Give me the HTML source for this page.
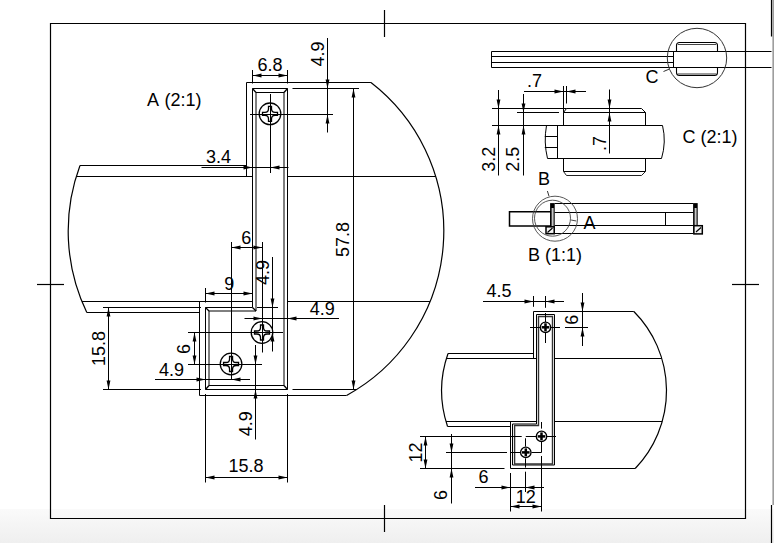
<!DOCTYPE html>
<html><head><meta charset="utf-8"><style>
html,body{margin:0;padding:0;background:#fff;}
body{width:774px;height:543px;overflow:hidden;position:relative;}
.bg{position:absolute;left:0;top:0;width:774px;height:543px;background:linear-gradient(to bottom,#fff 0px,#fff 508.5px,#fafafa 509px,#efefef 543px);}
.edge{position:absolute;left:772px;top:0;width:2px;height:505px;background:linear-gradient(to right,#d4d4d4,#8c8c8c);}
svg{position:absolute;left:0;top:0;}
text{font-family:"Liberation Sans",sans-serif;fill:#000;}
</style></head><body><div class="bg"></div><div class="edge"></div>
<svg width="774" height="543" viewBox="0 0 774 543">
<polygon points="50.5,23.5 745.5,23.5 745.5,518.5 50.5,518.5" fill="none" stroke="#000" stroke-width="1.2"/>
<line x1="384.5" y1="10" x2="384.5" y2="37" stroke="#000" stroke-width="1.2"/>
<line x1="384.5" y1="505" x2="384.5" y2="532" stroke="#000" stroke-width="1.2"/>
<line x1="37" y1="284.5" x2="64" y2="284.5" stroke="#000" stroke-width="1.2"/>
<line x1="732" y1="284.5" x2="759" y2="284.5" stroke="#000" stroke-width="1.2"/>
<line x1="771.5" y1="0" x2="771.5" y2="36.5" stroke="#000" stroke-width="1.2"/>
<line x1="771.5" y1="505" x2="771.5" y2="543" stroke="#000" stroke-width="1.2"/>
<path d="M370.96,82.5 A187.8,187.8 0 0 1 346.6,395.5" fill="none" stroke="#000" stroke-width="1.2"/>
<path d="M79.99,165.5 A187.8,187.8 0 0 0 86.81,312.5" fill="none" stroke="#000" stroke-width="1.2"/>
<line x1="246.5" y1="82.5" x2="370.96342896765043" y2="82.5" stroke="#000" stroke-width="1.0"/>
<line x1="246.5" y1="82.5" x2="246.5" y2="176.5" stroke="#000" stroke-width="1.0"/>
<line x1="79.99264219925348" y1="165.5" x2="246.5" y2="165.5" stroke="#000" stroke-width="1.0"/>
<line x1="76.2819152116293" y1="176.5" x2="252.5" y2="176.5" stroke="#000" stroke-width="1.0"/>
<line x1="287.5" y1="176.5" x2="435.7180847883707" y2="176.5" stroke="#000" stroke-width="1.0"/>
<line x1="81.93509831100354" y1="301.5" x2="252.5" y2="301.5" stroke="#000" stroke-width="1.0"/>
<line x1="287.5" y1="301.5" x2="430.06490168899643" y2="301.5" stroke="#000" stroke-width="1.0"/>
<line x1="86.80605802807241" y1="312.5" x2="199.5" y2="312.5" stroke="#000" stroke-width="1.0"/>
<line x1="199.5" y1="301.5" x2="199.5" y2="395.5" stroke="#000" stroke-width="1.0"/>
<line x1="199.5" y1="395.5" x2="346.60126930678183" y2="395.5" stroke="#000" stroke-width="1.0"/>
<polygon points="252.5,307.5 252.5,88.5 287.5,88.5 287.5,389.5 205.5,389.5 205.5,307.5" fill="none" stroke="#000" stroke-width="1.0"/>
<line x1="256" y1="92.5" x2="256" y2="311" stroke="#000" stroke-width="1.0"/>
<line x1="284" y1="92.5" x2="284" y2="385.5" stroke="#000" stroke-width="1.0"/>
<line x1="209" y1="311" x2="209" y2="385.5" stroke="#000" stroke-width="1.0"/>
<line x1="256" y1="92.5" x2="284" y2="92.5" stroke="#000" stroke-width="1.0"/>
<line x1="209" y1="311" x2="256" y2="311" stroke="#000" stroke-width="1.0"/>
<line x1="209" y1="385.5" x2="284" y2="385.5" stroke="#000" stroke-width="1.0"/>
<line x1="252.5" y1="88.5" x2="256" y2="92.5" stroke="#000" stroke-width="1.3"/>
<line x1="287.5" y1="88.5" x2="284" y2="92.5" stroke="#000" stroke-width="1.3"/>
<line x1="252.5" y1="307.5" x2="256" y2="311" stroke="#000" stroke-width="1.3"/>
<line x1="205.5" y1="307.5" x2="209" y2="311" stroke="#000" stroke-width="1.3"/>
<line x1="205.5" y1="389.5" x2="209" y2="385.5" stroke="#000" stroke-width="1.3"/>
<line x1="287.5" y1="389.5" x2="284" y2="385.5" stroke="#000" stroke-width="1.3"/>
<line x1="103" y1="307.5" x2="201" y2="307.5" stroke="#000" stroke-width="1.0"/>
<line x1="103" y1="389.5" x2="201" y2="389.5" stroke="#000" stroke-width="1.0"/>
<line x1="108.5" y1="307.5" x2="108.5" y2="389.5" stroke="#000" stroke-width="1.0"/>
<polygon points="108.5,307.5 106.6,316.5 110.4,316.5" fill="#000"/>
<polygon points="108.5,389.5 106.6,380.5 110.4,380.5" fill="#000"/>
<text x="0" y="0" transform="translate(104.5,348.5) rotate(-90)" text-anchor="middle" font-size="18" >15.8</text>
<line x1="292.5" y1="88.5" x2="359" y2="88.5" stroke="#000" stroke-width="1.0"/>
<line x1="292.5" y1="389.5" x2="356.7302834305553" y2="389.5" stroke="#000" stroke-width="1.0"/>
<line x1="353.5" y1="88.5" x2="353.5" y2="389.5" stroke="#000" stroke-width="1.0"/>
<polygon points="353.5,88.5 351.6,97.5 355.4,97.5" fill="#000"/>
<polygon points="353.5,389.5 351.6,380.5 355.4,380.5" fill="#000"/>
<text x="0" y="0" transform="translate(348.5,239.5) rotate(-90)" text-anchor="middle" font-size="18" >57.8</text>
<line x1="252.5" y1="70" x2="252.5" y2="83.5" stroke="#000" stroke-width="1.0"/>
<line x1="287.5" y1="70" x2="287.5" y2="83.5" stroke="#000" stroke-width="1.0"/>
<line x1="252.5" y1="75.5" x2="287.5" y2="75.5" stroke="#000" stroke-width="1.0"/>
<polygon points="252.5,75.5 261.5,73.6 261.5,77.4" fill="#000"/>
<polygon points="287.5,75.5 278.5,73.6 278.5,77.4" fill="#000"/>
<text x="270.0" y="70.5" text-anchor="middle" font-size="18" >6.8</text>
<line x1="327.5" y1="38" x2="327.5" y2="132.5" stroke="#000" stroke-width="1.0"/>
<polygon points="327.5,88.5 325.6,79.5 329.4,79.5" fill="#000"/>
<polygon points="327.5,114.5 325.6,123.5 329.4,123.5" fill="#000"/>
<text x="0" y="0" transform="translate(323.5,54.0) rotate(-90)" text-anchor="middle" font-size="18" >4.9</text>
<circle cx="270.0" cy="113.8" r="10.8" fill="none" stroke="#000" stroke-width="1.3"/>
<path d="M268.5,106.3 L271.5,106.3 L271.5,108.7 Q271.5,112.3 275.1,112.3 L277.5,112.3 L277.5,115.3 L275.1,115.3 Q271.5,115.3 271.5,118.89999999999999 L271.5,121.3 L268.5,121.3 L268.5,118.89999999999999 Q268.5,115.3 264.9,115.3 L262.5,115.3 L262.5,112.3 L264.9,112.3 Q268.5,112.3 268.5,108.7 Z" fill="none" stroke="#000" stroke-width="1.3"/>
<line x1="250" y1="114.5" x2="333" y2="114.5" stroke="#000" stroke-width="1.0"/>
<line x1="270.5" y1="94" x2="270.5" y2="173" stroke="#000" stroke-width="1.0"/>
<line x1="201.5" y1="167.5" x2="288.5" y2="167.5" stroke="#000" stroke-width="1.0"/>
<polygon points="252.5,167.5 243.5,165.6 243.5,169.4" fill="#000"/>
<polygon points="270.5,167.5 279.5,165.6 279.5,169.4" fill="#000"/>
<text x="218.5" y="162.5" text-anchor="middle" font-size="18" >3.4</text>
<line x1="231.5" y1="242" x2="231.5" y2="380" stroke="#000" stroke-width="1.0"/>
<line x1="262.5" y1="242" x2="262.5" y2="352.5" stroke="#000" stroke-width="1.0"/>
<line x1="231.5" y1="247.5" x2="262.5" y2="247.5" stroke="#000" stroke-width="1.0"/>
<polygon points="231.5,247.5 240.5,245.6 240.5,249.4" fill="#000"/>
<polygon points="262.5,247.5 253.5,245.6 253.5,249.4" fill="#000"/>
<text x="246.3" y="243.8" text-anchor="middle" font-size="18" >6</text>
<line x1="205.5" y1="288" x2="205.5" y2="302.5" stroke="#000" stroke-width="1.0"/>
<line x1="205.5" y1="293.5" x2="252.5" y2="293.5" stroke="#000" stroke-width="1.0"/>
<polygon points="205.5,293.5 214.5,291.6 214.5,295.4" fill="#000"/>
<polygon points="252.5,293.5 243.5,291.6 243.5,295.4" fill="#000"/>
<text x="229.3" y="289.8" text-anchor="middle" font-size="18" >9</text>
<line x1="272.5" y1="257" x2="272.5" y2="351.5" stroke="#000" stroke-width="1.0"/>
<line x1="257" y1="307.5" x2="278" y2="307.5" stroke="#000" stroke-width="1.0"/>
<polygon points="272.5,307.5 270.6,298.5 274.4,298.5" fill="#000"/>
<polygon points="272.5,332.5 270.6,341.5 274.4,341.5" fill="#000"/>
<text x="0" y="0" transform="translate(269.0,272.6) rotate(-90)" text-anchor="middle" font-size="18" >4.9</text>
<line x1="244.5" y1="318.5" x2="339" y2="318.5" stroke="#000" stroke-width="1.0"/>
<polygon points="262.5,318.5 253.5,316.6 253.5,320.4" fill="#000"/>
<polygon points="287.5,318.5 296.5,316.6 296.5,320.4" fill="#000"/>
<text x="322.3" y="314.9" text-anchor="middle" font-size="18" >4.9</text>
<circle cx="262.0" cy="332.5" r="10.8" fill="none" stroke="#000" stroke-width="1.3"/>
<path d="M260.5,325.0 L263.5,325.0 L263.5,327.4 Q263.5,331.0 267.1,331.0 L269.5,331.0 L269.5,334.0 L267.1,334.0 Q263.5,334.0 263.5,337.6 L263.5,340.0 L260.5,340.0 L260.5,337.6 Q260.5,334.0 256.9,334.0 L254.5,334.0 L254.5,331.0 L256.9,331.0 Q260.5,331.0 260.5,327.4 Z" fill="none" stroke="#000" stroke-width="1.3"/>
<line x1="188" y1="332.5" x2="283" y2="332.5" stroke="#000" stroke-width="1.0"/>
<circle cx="231.05" cy="364.0" r="10.8" fill="none" stroke="#000" stroke-width="1.3"/>
<path d="M229.55,356.5 L232.55,356.5 L232.55,358.9 Q232.55,362.5 236.15,362.5 L238.55,362.5 L238.55,365.5 L236.15,365.5 Q232.55,365.5 232.55,369.1 L232.55,371.5 L229.55,371.5 L229.55,369.1 Q229.55,365.5 225.95000000000002,365.5 L223.55,365.5 L223.55,362.5 L225.95000000000002,362.5 Q229.55,362.5 229.55,358.9 Z" fill="none" stroke="#000" stroke-width="1.3"/>
<line x1="188" y1="364.5" x2="262" y2="364.5" stroke="#000" stroke-width="1.0"/>
<line x1="194.5" y1="332.5" x2="194.5" y2="364.5" stroke="#000" stroke-width="1.0"/>
<polygon points="194.5,332.5 192.6,341.5 196.4,341.5" fill="#000"/>
<polygon points="194.5,364.5 192.6,355.5 196.4,355.5" fill="#000"/>
<text x="0" y="0" transform="translate(190.0,349.0) rotate(-90)" text-anchor="middle" font-size="18" >6</text>
<line x1="155" y1="379.5" x2="250" y2="379.5" stroke="#000" stroke-width="1.0"/>
<polygon points="205.5,379.5 196.5,377.6 196.5,381.4" fill="#000"/>
<polygon points="231.5,379.5 240.5,377.6 240.5,381.4" fill="#000"/>
<text x="171.4" y="376.2" text-anchor="middle" font-size="18" >4.9</text>
<line x1="255.5" y1="345" x2="255.5" y2="439.5" stroke="#000" stroke-width="1.0"/>
<polygon points="255.5,364.5 253.6,355.5 257.4,355.5" fill="#000"/>
<polygon points="255.5,389.5 253.6,398.5 257.4,398.5" fill="#000"/>
<text x="0" y="0" transform="translate(252.0,423.7) rotate(-90)" text-anchor="middle" font-size="18" >4.9</text>
<line x1="205.5" y1="394" x2="205.5" y2="482.5" stroke="#000" stroke-width="1.0"/>
<line x1="287.5" y1="394" x2="287.5" y2="482.5" stroke="#000" stroke-width="1.0"/>
<line x1="205.5" y1="477.5" x2="287.5" y2="477.5" stroke="#000" stroke-width="1.0"/>
<polygon points="205.5,477.5 214.5,475.6 214.5,479.4" fill="#000"/>
<polygon points="287.5,477.5 278.5,475.6 278.5,479.4" fill="#000"/>
<text x="246.0" y="472.3" text-anchor="middle" font-size="18" >15.8</text>
<text x="147" y="105.6" text-anchor="start" font-size="18" word-spacing="1.5">A (2:1)</text>
<line x1="491.5" y1="51.5" x2="771.5" y2="51.5" stroke="#000" stroke-width="1.0"/>
<line x1="491.5" y1="67.5" x2="771.5" y2="67.5" stroke="#000" stroke-width="1.0"/>
<line x1="491.5" y1="56.5" x2="673.5" y2="56.5" stroke="#000" stroke-width="1.0"/>
<line x1="491.5" y1="62.5" x2="673.5" y2="62.5" stroke="#000" stroke-width="1.0"/>
<line x1="491.5" y1="51.5" x2="491.5" y2="67.5" stroke="#000" stroke-width="1.0"/>
<line x1="673.5" y1="51.5" x2="673.5" y2="67.5" stroke="#000" stroke-width="1.0"/>
<circle cx="697.0" cy="58.0" r="29.7" fill="none" stroke="#333" stroke-width="1.0"/>
<path d="M676.5,51.5 L676.5,45.5 Q676.5,42.5 679.5,42.5 L714.5,42.5 Q717.5,42.5 717.5,45.5 L717.5,51.5" fill="none" stroke="#000" stroke-width="1.1"/>
<line x1="678" y1="44.5" x2="716" y2="44.5" stroke="#444" stroke-width="1.0"/>
<path d="M676.5,67.5 L676.5,72.5 Q676.5,75.5 679.5,75.5 L714.5,75.5 Q717.5,75.5 717.5,72.5 L717.5,67.5" fill="none" stroke="#000" stroke-width="1.1"/>
<line x1="678" y1="74.0" x2="716" y2="74.0" stroke="#777" stroke-width="1.4"/>
<line x1="663.5" y1="71.5" x2="669.5" y2="69" stroke="#333" stroke-width="1.0"/>
<text x="645.5" y="82.9" text-anchor="start" font-size="18" >C</text>
<line x1="563.5" y1="86" x2="563.5" y2="112.5" stroke="#000" stroke-width="1.0"/>
<line x1="566.5" y1="86" x2="566.5" y2="103.5" stroke="#000" stroke-width="1.0"/>
<line x1="524" y1="91.5" x2="586" y2="91.5" stroke="#000" stroke-width="1.0"/>
<polygon points="563.5,91.5 554.5,89.6 554.5,93.4" fill="#000"/>
<polygon points="566.5,91.5 575.5,89.6 575.5,93.4" fill="#000"/>
<text x="534.5" y="86.8" text-anchor="middle" font-size="18" >.7</text>
<line x1="498.5" y1="90" x2="498.5" y2="175.5" stroke="#000" stroke-width="1.0"/>
<polygon points="498.5,108.5 496.6,99.5 500.4,99.5" fill="#000"/>
<polygon points="498.5,125.5 496.6,134.5 500.4,134.5" fill="#000"/>
<line x1="523.5" y1="94" x2="523.5" y2="175.5" stroke="#000" stroke-width="1.0"/>
<polygon points="523.5,112.5 521.6,103.5 525.4,103.5" fill="#000"/>
<polygon points="523.5,125.5 521.6,134.5 525.4,134.5" fill="#000"/>
<line x1="492" y1="108.5" x2="566.5" y2="108.5" stroke="#000" stroke-width="1.0"/>
<line x1="517" y1="112.5" x2="559" y2="112.5" stroke="#000" stroke-width="1.0"/>
<line x1="492" y1="125.5" x2="546" y2="125.5" stroke="#000" stroke-width="1.0"/>
<text x="0" y="0" transform="translate(494.5,159.3) rotate(-90)" text-anchor="middle" font-size="18" >3.2</text>
<text x="0" y="0" transform="translate(519.3,159.3) rotate(-90)" text-anchor="middle" font-size="18" >2.5</text>
<polyline points="563.5,125.5 563.5,112.5 566.5,108.5 641.5,108.5 645.5,112.5 645.5,125.5" fill="none" stroke="#000" stroke-width="1.0"/>
<line x1="563.5" y1="112.5" x2="645.5" y2="112.5" stroke="#000" stroke-width="1.0"/>
<polyline points="563.5,158.5 563.5,171.5 645.5,171.5 645.5,158.5" fill="none" stroke="#000" stroke-width="1.0"/>
<polyline points="563.5,171.5 566.5,175.5 641.5,175.5 645.5,171.5" fill="none" stroke="#222" stroke-width="1.0"/>
<line x1="546" y1="125.5" x2="662.5" y2="125.5" stroke="#000" stroke-width="1.0"/>
<line x1="547.5" y1="158.5" x2="661.5" y2="158.5" stroke="#000" stroke-width="1.0"/>
<path d="M546.5,125.5 Q543.5,142 547.5,158.5" fill="none" stroke="#000" stroke-width="1"/>
<path d="M662.5,125.5 Q666.5,142 661.5,158.5" fill="none" stroke="#000" stroke-width="1"/>
<line x1="557.5" y1="125.5" x2="557.5" y2="158.5" stroke="#000" stroke-width="1.0"/>
<line x1="544.8" y1="136.5" x2="557.5" y2="136.5" stroke="#000" stroke-width="1.0"/>
<line x1="544.8" y1="147.5" x2="557.5" y2="147.5" stroke="#000" stroke-width="1.0"/>
<line x1="609.5" y1="89.5" x2="609.5" y2="153.5" stroke="#000" stroke-width="1.0"/>
<polygon points="609.5,108.5 607.6,99.5 611.4,99.5" fill="#000"/>
<polygon points="609.5,112.5 607.6,121.5 611.4,121.5" fill="#000"/>
<text x="0" y="0" transform="translate(606.0,143.5) rotate(-90)" text-anchor="middle" font-size="18" >.7</text>
<text x="682.6" y="142.9" text-anchor="start" font-size="18" >C (2:1)</text>
<rect x="509.5" y="211.75" width="41.5" height="14.25" fill="none" stroke="#000" stroke-width="1.5"/>
<line x1="554.6" y1="203.5" x2="693.3" y2="203.5" stroke="#000" stroke-width="1.0"/>
<line x1="554.6" y1="212.5" x2="693.3" y2="212.5" stroke="#000" stroke-width="1.0"/>
<line x1="554.6" y1="225.5" x2="693.3" y2="225.5" stroke="#000" stroke-width="1.0"/>
<line x1="554.6" y1="233.5" x2="693.3" y2="233.5" stroke="#000" stroke-width="1.0"/>
<line x1="665.5" y1="212.5" x2="665.5" y2="225.5" stroke="#000" stroke-width="1.0"/>
<rect x="550.1" y="203.1" width="4.600000000000023" height="30.6" fill="#000"/>
<rect x="551.6" y="208" width="2.0000000000000226" height="19.4" fill="#c8c8c8"/>
<rect x="693.1" y="203.1" width="4.600000000000023" height="30.6" fill="#000"/>
<rect x="694.6" y="208" width="2.0000000000000226" height="19.4" fill="#c8c8c8"/>
<rect x="546.0" y="226.8" width="8.2" height="6.9" fill="#f4f4f4" stroke="#000" stroke-width="1.5"/>
<line x1="547.5" y1="232.5" x2="552.5" y2="228" stroke="#000" stroke-width="1.2"/>
<rect x="693.9" y="225.7" width="8.4" height="8.2" fill="#f4f4f4" stroke="#000" stroke-width="1.5"/>
<line x1="696" y1="232" x2="701" y2="227.5" stroke="#000" stroke-width="1.2"/>
<circle cx="555.0" cy="218.7" r="22.5" fill="none" stroke="#444" stroke-width="0.9"/>
<circle cx="552.5" cy="218.2" r="18.0" fill="none" stroke="#444" stroke-width="0.9"/>
<line x1="571.1" y1="220" x2="576.3" y2="221" stroke="#444" stroke-width="1.0"/>
<line x1="547.4" y1="191" x2="549" y2="196.2" stroke="#333" stroke-width="1.0"/>
<text x="537.9" y="184.8" text-anchor="start" font-size="18" >B</text>
<text x="583.5" y="228.7" text-anchor="start" font-size="18" >A</text>
<text x="528.1" y="260.7" text-anchor="start" font-size="18" >B (1:1)</text>
<path d="M633.86,311.5 A112.4,112.4 0 0 1 635.22,468.5" fill="none" stroke="#000" stroke-width="1.2"/>
<path d="M448.03,353.5 A112.4,112.4 0 0 0 447.55,426.5" fill="none" stroke="#000" stroke-width="1.2"/>
<line x1="533.5" y1="311.5" x2="633.8566298184671" y2="311.5" stroke="#000" stroke-width="1.0"/>
<line x1="533.5" y1="311.5" x2="533.5" y2="358.5" stroke="#000" stroke-width="1.0"/>
<line x1="448.03435994630496" y1="353.5" x2="533.5" y2="353.5" stroke="#000" stroke-width="1.0"/>
<line x1="446.4110033476029" y1="358.5" x2="536.5" y2="358.5" stroke="#000" stroke-width="1.0"/>
<line x1="554.5" y1="358.5" x2="661.7889966523971" y2="358.5" stroke="#000" stroke-width="1.0"/>
<line x1="446.00226644374084" y1="421.5" x2="537" y2="421.5" stroke="#000" stroke-width="1.0"/>
<line x1="554.5" y1="421.5" x2="662.1977335562592" y2="421.5" stroke="#000" stroke-width="1.0"/>
<line x1="447.55367204825876" y1="426.5" x2="510.5" y2="426.5" stroke="#000" stroke-width="1.0"/>
<line x1="510.5" y1="421.5" x2="510.5" y2="468.5" stroke="#000" stroke-width="1.0"/>
<line x1="510.5" y1="468.5" x2="635.2228697717235" y2="468.5" stroke="#000" stroke-width="1.0"/>
<polygon points="536.5,424.0 536.5,314.5 554.5,314.5 554.5,465.0 512.5,465.0 512.5,424.0" fill="none" stroke="#000" stroke-width="1.0"/>
<polygon points="538.5,425.5 538.5,316.5 552.5,316.5 552.5,464.0 514.6,464.0 514.6,425.5" fill="none" stroke="#333" stroke-width="1.4"/>
<circle cx="545.5" cy="327.3" r="5.2" fill="none" stroke="#000" stroke-width="1.35"/>
<rect x="541.7" y="326.05" width="7.6" height="2.5" fill="#000"/>
<rect x="544.25" y="323.3" width="2.5" height="8" fill="#000"/>
<line x1="530" y1="327.5" x2="540" y2="327.5" stroke="#000" stroke-width="1.0"/>
<line x1="551" y1="327.5" x2="560" y2="327.5" stroke="#000" stroke-width="1.0"/>
<line x1="545.5" y1="313" x2="545.5" y2="322" stroke="#000" stroke-width="1.0"/>
<line x1="545.5" y1="332.5" x2="545.5" y2="343" stroke="#000" stroke-width="1.0"/>
<circle cx="541.5" cy="436.4" r="5.2" fill="none" stroke="#000" stroke-width="1.35"/>
<rect x="537.7" y="435.15" width="7.6" height="2.5" fill="#000"/>
<rect x="540.25" y="432.4" width="2.5" height="8" fill="#000"/>
<line x1="420" y1="436.5" x2="521.7" y2="436.5" stroke="#000" stroke-width="1.0"/>
<line x1="525.8" y1="436.5" x2="536" y2="436.5" stroke="#000" stroke-width="1.0"/>
<line x1="547" y1="436.5" x2="556" y2="436.5" stroke="#000" stroke-width="1.0"/>
<line x1="541.5" y1="422" x2="541.5" y2="428.6" stroke="#000" stroke-width="1.0"/>
<line x1="541.5" y1="442" x2="541.5" y2="452.5" stroke="#000" stroke-width="1.0"/>
<circle cx="525.8" cy="452.4" r="5.2" fill="none" stroke="#000" stroke-width="1.35"/>
<rect x="522.0" y="451.15" width="7.6" height="2.5" fill="#000"/>
<rect x="524.55" y="448.4" width="2.5" height="8" fill="#000"/>
<line x1="446" y1="452.5" x2="507" y2="452.5" stroke="#000" stroke-width="1.0"/>
<line x1="510.6" y1="452.5" x2="520" y2="452.5" stroke="#000" stroke-width="1.0"/>
<line x1="531.5" y1="452.5" x2="541.5" y2="452.5" stroke="#000" stroke-width="1.0"/>
<line x1="525.5" y1="438.3" x2="525.5" y2="446.6" stroke="#000" stroke-width="1.0"/>
<line x1="525.5" y1="458.3" x2="525.5" y2="467.6" stroke="#000" stroke-width="1.0"/>
<line x1="525.5" y1="471.7" x2="525.5" y2="492" stroke="#000" stroke-width="1.0"/>
<line x1="541.5" y1="456" x2="541.5" y2="511.5" stroke="#000" stroke-width="1.0"/>
<line x1="483" y1="301.5" x2="564" y2="301.5" stroke="#000" stroke-width="1.0"/>
<polygon points="533.5,301.5 524.5,299.6 524.5,303.4" fill="#000"/>
<polygon points="545.5,301.5 554.5,299.6 554.5,303.4" fill="#000"/>
<line x1="533.5" y1="296" x2="533.5" y2="306.8" stroke="#000" stroke-width="1.0"/>
<line x1="545.5" y1="296" x2="545.5" y2="307.8" stroke="#000" stroke-width="1.0"/>
<text x="499.0" y="297.4" text-anchor="middle" font-size="18" >4.5</text>
<line x1="582.5" y1="293" x2="582.5" y2="346" stroke="#000" stroke-width="1.0"/>
<polygon points="582.5,311.5 580.6,302.5 584.4,302.5" fill="#000"/>
<polygon points="582.5,327.5 580.6,336.5 584.4,336.5" fill="#000"/>
<line x1="565" y1="327.5" x2="588" y2="327.5" stroke="#000" stroke-width="1.0"/>
<text x="0" y="0" transform="translate(578.0,319.8) rotate(-90)" text-anchor="middle" font-size="18" >6</text>
<line x1="425.5" y1="436.5" x2="425.5" y2="468.5" stroke="#000" stroke-width="1.0"/>
<polygon points="425.5,436.5 423.6,445.5 427.4,445.5" fill="#000"/>
<polygon points="425.5,468.5 423.6,459.5 427.4,459.5" fill="#000"/>
<line x1="420" y1="468.5" x2="504.5" y2="468.5" stroke="#000" stroke-width="1.0"/>
<text x="0" y="0" transform="translate(421.8,452.6) rotate(-90)" text-anchor="middle" font-size="18" >12</text>
<line x1="451.5" y1="434" x2="451.5" y2="503.5" stroke="#000" stroke-width="1.0"/>
<polygon points="451.5,452.5 449.6,443.5 453.4,443.5" fill="#000"/>
<polygon points="451.5,468.5 449.6,477.5 453.4,477.5" fill="#000"/>
<text x="0" y="0" transform="translate(447.0,495.0) rotate(-90)" text-anchor="middle" font-size="18" >6</text>
<line x1="475" y1="487.5" x2="544" y2="487.5" stroke="#000" stroke-width="1.0"/>
<polygon points="510.5,487.5 501.5,485.6 501.5,489.4" fill="#000"/>
<polygon points="525.5,487.5 534.5,485.6 534.5,489.4" fill="#000"/>
<line x1="510.5" y1="473" x2="510.5" y2="511.5" stroke="#000" stroke-width="1.0"/>
<text x="483.5" y="483.0" text-anchor="middle" font-size="18" >6</text>
<line x1="510.5" y1="506.5" x2="541.5" y2="506.5" stroke="#000" stroke-width="1.0"/>
<polygon points="510.5,506.5 519.5,504.6 519.5,508.4" fill="#000"/>
<polygon points="541.5,506.5 532.5,504.6 532.5,508.4" fill="#000"/>
<text x="525.8" y="502.6" text-anchor="middle" font-size="18" >12</text>
</svg></body></html>
